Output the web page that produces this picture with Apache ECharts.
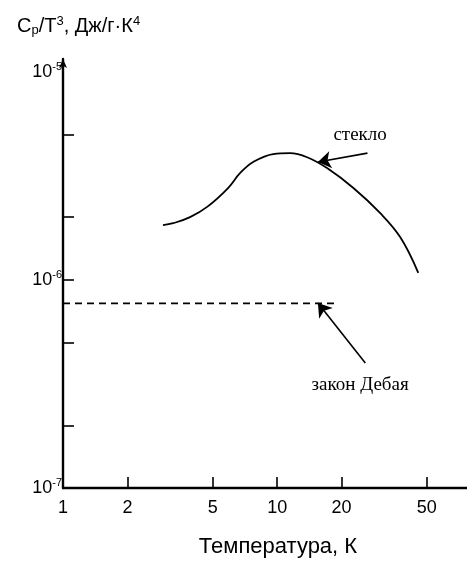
<!DOCTYPE html>
<html>
<head>
<meta charset="utf-8">
<script src="https://cdn.jsdelivr.net/npm/echarts@6/dist/echarts.min.js"></script>
<style>
  html, body { margin: 0; padding: 0; background: #fff; }
  #chart { width: 467px; height: 563px; }
</style>
</head>
<body>
<div id="chart"></div>
<script>
// стекло: Cp/T^3 vs T
const glassT = [2.93, 3.27, 3.92, 4.71, 5.9, 6.72, 7.73, 9.58, 11.5, 13.8, 17.1, 22.7, 30.3, 37.6, 45.6]
const glassC = [1.83e-6, 1.87e-6, 2.0e-6, 2.24e-6, 2.76e-6, 3.26e-6, 3.68e-6, 4.02e-6, 4.06e-6, 3.88e-6, 3.44e-6, 2.76e-6, 2.09e-6, 1.6e-6, 1.08e-6]
// закон Дебая: constant
const debyeT = [1, 19]
const debyeC = [7.7e-7, 7.7e-7]

const xTicks = [2, 5, 10, 20, 50]
const xLabels = [1, 2, 5, 10, 20, 50]
const yTicks = [2e-7, 5e-7, 1e-6, 2e-6, 5e-6]
const yLabels = [1e-7, 1e-6, 1e-5]

// annotation arrows: [from, to] in data coordinates
const glassArrow = [[26.4, 4.06e-6], [15.5, 3.68e-6]]
const debyeArrow = [[25.8, 3.98e-7], [15.5, 7.73e-7]]
const glassText = [24.4, 4.96e-6]
const debyeText = [24.4, 3.12e-7]

const chart = echarts.init(document.getElementById('chart'))

const sansFont = 'Liberation Sans'
const serifFont = 'Liberation Serif'

const arrowLine = (pts) => ({
  silent: true,
  symbol: ['none', 'arrow'],
  symbolSize: 13,
  label: { show: false },
  lineStyle: { color: '#000', width: 1.6, type: 'solid' },
  data: [[{ coord: pts[0] }, { coord: pts[1] }]]
})

const textPoint = (pos, text) => ({
  silent: true,
  symbol: 'circle',
  symbolSize: 1,
  itemStyle: { color: 'rgba(0,0,0,0)' },
  label: {
    show: true, position: 'inside', formatter: text,
    color: '#000', fontFamily: serifFont, fontSize: 19
  },
  data: [{ coord: pos }]
})

const option = {
  backgroundColor: '#fff',
  animation: false,
  title: {
    text: 'C{sub|p}/T{sup|3}, Дж/г·К{sup|4}',
    left: 12,
    top: 10,
    textStyle: {
      fontFamily: sansFont,
      fontSize: 20,
      fontWeight: 'normal',
      color: '#000',
      rich: {
        sub: { fontFamily: sansFont, fontSize: 13, padding: [8, 0, 0, 0], color: '#000' },
        sup: { fontFamily: sansFont, fontSize: 13, padding: [0, 0, 10, 0], color: '#000' }
      }
    }
  },
  grid: { left: 63, right: 0, top: 59, bottom: 75, containLabel: false },
  xAxis: {
    type: 'log',
    min: 1,
    max: 77,
    name: 'Температура, К',
    nameLocation: 'middle',
    nameGap: 48,
    nameTextStyle: { fontFamily: sansFont, fontSize: 22, color: '#000', padding: [0, 0, 0, 26] },
    axisLine: { lineStyle: { color: '#000', width: 2.4 } },
    axisTick: { show: true, inside: true, length: 11, customValues: xTicks, lineStyle: { color: '#000', width: 1.6 } },
    axisLabel: {
      customValues: xLabels,
      margin: 11,
      fontFamily: sansFont,
      fontSize: 18,
      color: '#000',
      formatter: (v) => String(v)
    },
    splitLine: { show: false },
    minorTick: { show: false }
  },
  yAxis: {
    type: 'log',
    min: 1e-7,
    max: 1.15e-5,
    axisLine: {
      lineStyle: { color: '#000', width: 2.4 },
      symbol: ['none', 'arrow'],
      symbolSize: [6, 9]
    },
    axisTick: { show: true, inside: true, length: 11, customValues: yTicks, lineStyle: { color: '#000', width: 1.6 } },
    axisLabel: {
      customValues: yLabels,
      margin: 1,
      color: '#000',
      formatter: (v) => '{b|10}{s|' + Math.round(Math.log10(v)) + '}',
      rich: {
        b: { fontFamily: sansFont, fontSize: 18, color: '#000' },
        s: { fontFamily: sansFont, fontSize: 11, color: '#000', padding: [0, 0, 10, 0] }
      }
    },
    splitLine: { show: false },
    minorTick: { show: false }
  },
  series: [
    {
      name: 'стекло',
      type: 'line',
      smooth: 0.4,
      symbol: 'none',
      lineStyle: { color: '#000', width: 1.8 },
      data: glassT.map((t, i) => [t, glassC[i]]),
      markLine: arrowLine(glassArrow),
      markPoint: textPoint(glassText, 'стекло')
    },
    {
      name: 'закон Дебая',
      type: 'line',
      symbol: 'none',
      lineStyle: { color: '#000', width: 1.8, type: [7, 5] },
      data: debyeT.map((t, i) => [t, debyeC[i]]),
      markLine: arrowLine(debyeArrow),
      markPoint: textPoint(debyeText, 'закон Дебая')
    }
  ]
}

chart.setOption(option)
</script>
</body>
</html>
